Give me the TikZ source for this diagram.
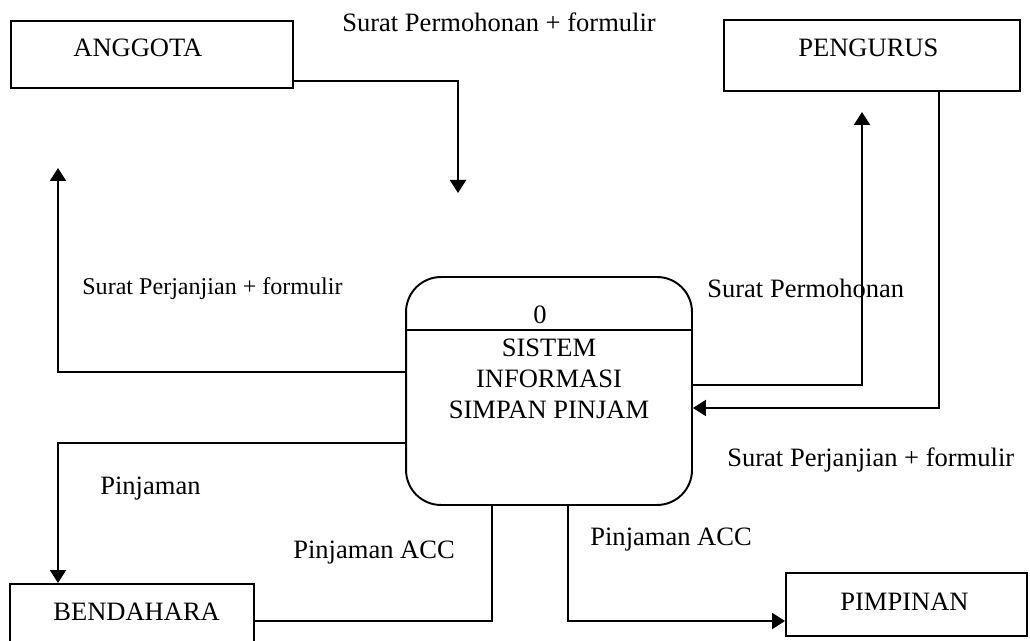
\documentclass[tikz,border=0pt]{standalone}
\usepackage{fontspec}
\setmainfont{Liberation Serif}
\usetikzlibrary{arrows.meta,calc}
\tikzset{
 entity/.style={draw,line width=1.1pt,inner sep=0pt},
 process/.style={draw,line width=1.1pt,rounded corners=0.7cm,inner sep=0pt,
  minimum width=5.72cm,minimum height=4.56cm},
 lbl/.style={anchor=base west,inner sep=0pt,font=\fontsize{15.1}{17.4}\selectfont},
 flow/.style={line width=1.1pt,-{Triangle[length=0.26cm,width=0.32cm]}},
 wire/.style={line width=1.1pt},
}

\begin{document}
\begin{tikzpicture}[x=0.02cm,y=-0.02cm]
\useasboundingbox (0,0) rectangle (1030,641);
% entitas luar
\node[entity,minimum width=5.64cm,minimum height=1.34cm] (ang) at (152,54.5) {};
\node[entity,minimum width=5.92cm,minimum height=1.42cm] (peng) at (872,55.5) {};
\node[entity,minimum width=4.88cm,minimum height=1.48cm] (bend) at (132,621) {};
\node[entity,minimum width=4.82cm,minimum height=1.26cm] (pimp) at (906.5,604.5) {};
\node[lbl] (angtxt) at (73,57) {ANGGOTA};
\node[lbl] (pengtxt) at (798,57) {PENGURUS};
\node[lbl] (bendtxt) at (53,620) {BENDAHARA};
\node[lbl] (pimptxt) at (840,610) {PIMPINAN};
% proses
\node[process] (proc) at (549,391) {};
\draw[wire] ([yshift=-1.08cm]proc.north west) -- ([yshift=-1.08cm]proc.north east);
\node[lbl,anchor=base] (pnum) at (540,324) {0};
\node[lbl,anchor=north,align=center] (pname) at (549,339) {SISTEM\\INFORMASI\\SIMPAN PINJAM};
% ujung bebas
\coordinate (angin) at (458,193);
\coordinate (angout) at (58,168);
\coordinate (pengin) at (862,112);
% aliran data
\draw[flow] ([yshift=-0.53cm]ang.east) -| (angin);
\draw[flow] ([yshift=0.38cm]proc.west) -| (angout);
\draw[flow] ([yshift=-1.04cm]proc.west) -| ([xshift=-1.48cm]bend.north);
\draw[wire] (bend.east) -| ([xshift=-1.14cm]proc.south);
\draw[flow] ([xshift=0.38cm]proc.south) |- ([yshift=-0.33cm]pimp.west);
\draw[flow] ([yshift=0.12cm]proc.east) -| (pengin);
\draw[flow] ([xshift=1.34cm]peng.south) |- ([yshift=-0.34cm]proc.east);
% label aliran
\node[lbl] (l1) at (342,32) {Surat Permohonan + formulir};
\node[lbl,font=\fontsize{13.7}{16}\selectfont] (l2) at (82,295) {Surat Perjanjian + formulir};
\node[lbl] (l3) at (707,298) {Surat Permohonan};
\node[lbl] (l4) at (727,466) {Surat Perjanjian + formulir};
\node[lbl] (l5) at (100,494) {Pinjaman};
\node[lbl] (l6) at (293,558) {Pinjaman ACC};
\node[lbl] (l7) at (590,545) {Pinjaman ACC};
\end{tikzpicture}
\end{document}
